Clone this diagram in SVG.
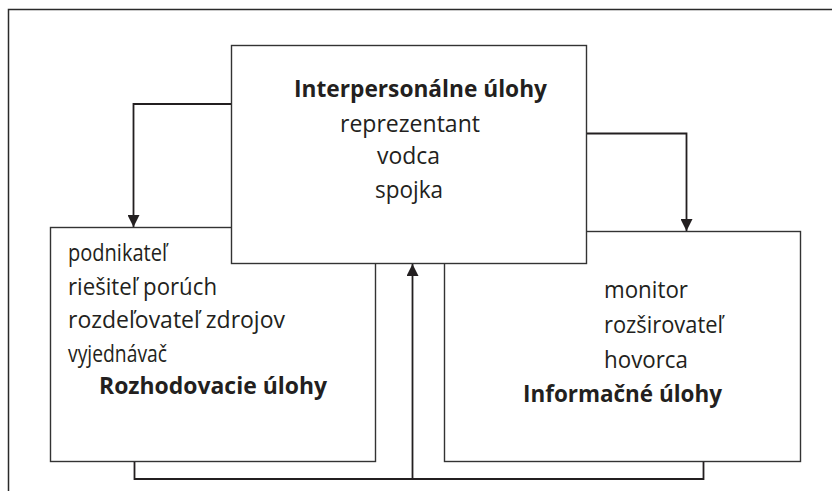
<svg xmlns="http://www.w3.org/2000/svg" width="832" height="491" viewBox="0 0 832 491">
<style>
.box{fill:#fff;stroke:#333;stroke-width:1.4}
.frame{fill:none;stroke:#2a2a2a;stroke-width:1.5}
.conn{fill:none;stroke:#231f20;stroke-width:1.8}
.t{font-family:"Open Sans","Liberation Sans",sans-serif;fill:#231f20}
.b{font-weight:bold}
</style>
<defs>
<marker id="arr" viewBox="0 0 12 12" refX="12" refY="6" markerWidth="12" markerHeight="12" markerUnits="userSpaceOnUse" orient="auto">
<path d="M0,0 L12,6 L0,12 Z" fill="#231f20"/>
</marker>
</defs>
<path class="frame" d="M8.5,491 V9.5 H832"/>
<g id="left-node" font-size="24">
<rect class="box" x="50.5" y="227.5" width="325" height="234"/>
<text class="t" x="68" y="261" textLength="99" lengthAdjust="spacingAndGlyphs">podnikateľ</text>
<text class="t" x="68" y="295" textLength="149" lengthAdjust="spacingAndGlyphs">riešiteľ porúch</text>
<text class="t" x="68" y="328" textLength="217" lengthAdjust="spacingAndGlyphs">rozdeľovateľ zdrojov</text>
<text class="t" x="68" y="362" textLength="99" lengthAdjust="spacingAndGlyphs">vyjednávač</text>
<text class="t b" x="99" y="394" textLength="228" lengthAdjust="spacingAndGlyphs">Rozhodovacie úlohy</text>
</g>
<g id="right-node" font-size="24">
<rect class="box" x="444.5" y="231.5" width="356" height="230"/>
<text class="t" x="604" y="298" textLength="84" lengthAdjust="spacingAndGlyphs">monitor</text>
<text class="t" x="604" y="333" textLength="119" lengthAdjust="spacingAndGlyphs">rozširovateľ</text>
<text class="t" x="604" y="368" textLength="84" lengthAdjust="spacingAndGlyphs">hovorca</text>
<text class="t b" x="523" y="402" textLength="199" lengthAdjust="spacingAndGlyphs">Informačné úlohy</text>
</g>
<g id="center-node" font-size="24">
<rect class="box" x="231.5" y="45.5" width="355" height="218"/>
<text class="t b" x="294" y="97" textLength="253" lengthAdjust="spacingAndGlyphs">Interpersonálne úlohy</text>
<text class="t" x="340" y="132" textLength="140" lengthAdjust="spacingAndGlyphs">reprezentant</text>
<text class="t" x="377" y="164" textLength="63" lengthAdjust="spacingAndGlyphs">vodca</text>
<text class="t" x="375" y="198" textLength="68" lengthAdjust="spacingAndGlyphs">spojka</text>
</g>
<g id="connectors">
<path class="conn" d="M231,104 H133.5 V227" marker-end="url(#arr)"/>
<path class="conn" d="M587,133.5 H686.5 V231" marker-end="url(#arr)"/>
<path class="conn" d="M134.5,462 V479 H703.5 V462"/>
<path class="conn" d="M412.5,479 V264" marker-end="url(#arr)"/>
</g>
</svg>
